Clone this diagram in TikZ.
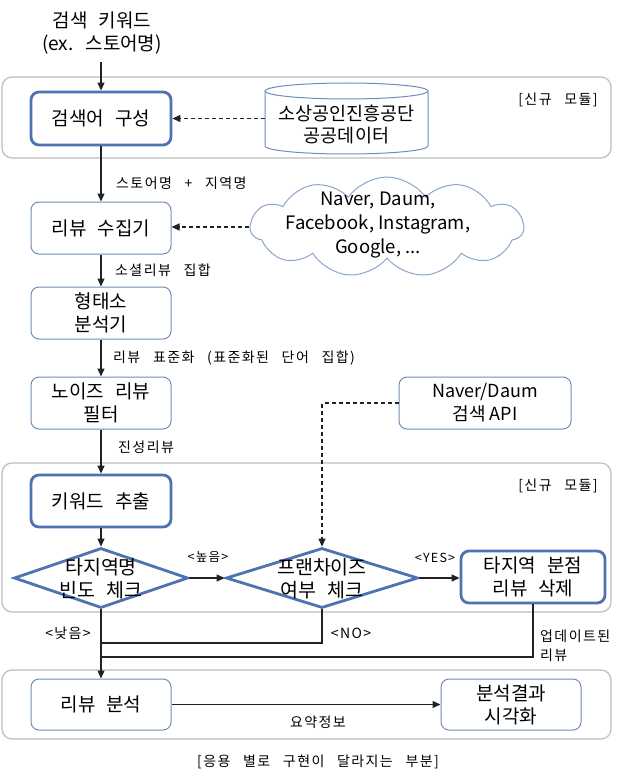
\documentclass[tikz,border=0pt]{standalone}
\usepackage{fontspec}
\setmainfont{Noto Sans CJK KR}[WordSpace=2.5]
\newfontfamily\latfont{Noto Sans CJK KR}
\newfontfamily\lblfont{Noto Sans CJK KR}[LetterSpace=10,WordSpace=2.8]
\usetikzlibrary{arrows.meta,shapes.geometric,shapes.symbols}
\definecolor{thk}{RGB}{79,114,179}
\definecolor{boxc}{RGB}{112,140,186}
\definecolor{modc}{RGB}{190,190,190}
\definecolor{conc}{RGB}{34,34,34}
\definecolor{cloudc}{RGB}{140,165,204}
\begin{document}
\begin{tikzpicture}[x=1pt,y=-1pt,
  every node/.style={inner sep=0pt},
  bx/.style={draw=boxc, line width=1pt, rounded corners=8pt, minimum width=140pt, minimum height=52pt, align=center, font=\fontsize{19}{23}\selectfont, fill=white},
  bxk/.style={bx, draw=thk, line width=2.8pt},
  mod/.style={draw=modc, line width=1.2pt, rounded corners=10pt},
  con/.style={draw=conc, line width=1.2pt},
  arr/.style={con, -{Triangle[length=8pt,width=7pt]}},
  dsh/.style={arr, dash pattern=on 4pt off 3pt},
  lab/.style={font=\lblfont\fontsize{14}{19}\selectfont},
  slab/.style={font=\lblfont\fontsize{12.5}{16}\selectfont},
  dia/.style={diamond, draw=thk, line width=2.8pt, fill=white, minimum width=174pt, minimum height=60pt},
  dtxt/.style={align=center, font=\fontsize{19.5}{23}\selectfont},
  cyl/.style={draw=boxc, line width=1pt}
]
\useasboundingbox (0,0) rectangle (634,778);
\fill[white] (0,0) rectangle (634,778);

% modules
\draw[mod] (2,77) rectangle (611,158);
\draw[mod] (2,463) rectangle (611,612);
\draw[mod] (2,670) rectangle (611,739);
\node[lab] (m1) at (558,100) {[신규 모듈]};
\node[lab] (m2) at (558,486) {[신규 모듈]};

% title
\node[align=center, font=\fontsize{19}{23}\selectfont] (title) at (102,33) {검색 키워드\\(ex. 스토어명)};

% boxes
\node[bxk, minimum height=53pt] (q) at (101,118.5) {검색어 구성};
\node[bx] (r) at (101,228) {리뷰 수집기};
\node[bx] (m) at (101,313) {형태소\\분석기};
\node[bx] (n) at (101,403) {노이즈 리뷰\\필터};
\node[bx, minimum width=172pt, font=\latfont\fontsize{18}{23}\selectfont] (api) at (485,403) {Naver/Daum\\검색 API};
\node[bxk] (k) at (101,501) {키워드 추출};
\node[bxk, minimum width=144pt] (t) at (533,577) {타지역 분점\\리뷰 삭제};
\node[bx, minimum height=51pt] (rv) at (101,704.5) {리뷰 분석};
\node[bx, minimum height=51pt] (vis) at (511,704.5) {분석결과\\시각화};

% cylinder
\draw[cyl] (265,91) -- (265,146) arc[start angle=180, end angle=0, x radius=81.5, y radius=8] -- (428,91);
\draw[cyl] (346.5,91) ellipse [x radius=81.5, y radius=8];
\node[align=center, font=\fontsize{18.5}{22}\selectfont] (db) at (346.5,124) {소상공인진흥공단\\공공데이터};
\coordinate (dbw) at (265,118.5);

% cloud
\node[cloud, cloud puffs=11, cloud puff arc=110, aspect=2.7, draw=cloudc, line width=1pt, minimum width=273pt, minimum height=100pt] (cl) at (387,227) {};
\node[align=center, font=\latfont\fontsize{18.5}{24}\selectfont] (clt) at (378,225) {Naver, Daum,\\Facebook, Instagram,\\Google, ...};

% diamonds
\node[dia] (d1) at (101,578) {};
\node[dtxt] (d1t) at (101,579) {타지역명\\빈도 체크};
\node[dia, minimum width=192pt] (d2) at (322,578) {};
\node[dtxt] (d2t) at (322,579) {프랜차이즈\\여부 체크};

% connectors
\draw[arr, shorten <=8pt] (title.south -| q.north) -- (q.north);
\draw[dsh] (dbw) -- (q.east);
\draw[arr] (q.south) -- (r.north);
\node[lab, anchor=west] (l1) at (116,183) {스토어명 + 지역명};
\draw[dsh] (cl.west) -- (cl.west -| r.east);
\draw[arr] (r.south) -- (m.north);
\node[lab, anchor=west] (l2) at (115,270) {소셜리뷰 집합};
\draw[arr] (m.south) -- (n.north);
\node[lab, anchor=west] (l3) at (113,358) {리뷰 표준화 (표준화된 단어 집합)};
\draw[arr] (n.south) -- (k.north);
\node[lab, anchor=west] (l4) at (118,447) {진성리뷰};
\draw[arr] (k.south) -- (d1.north);
\draw[dsh] (api.west) -| (d2.north);
\draw[arr] (d1.east) -- (d2.west);
\node[slab] (l5) at (208,557) {<높음>};
\draw[arr] (d2.east) -- (d2.east -| t.west);
\node[slab] (l6) at (435,558) {<YES>};
\coordinate (j1) at (101,643);
\coordinate (j2) at (101,657);
\draw[arr] (d1.south) -- (rv.north);
\draw[con] (d2.south) |- (j1);
\draw[con] (t.south) |- (j2);
\node[lab] (l7) at (68,633) {<낮음>};
\node[lab] (l8) at (351,633) {<NO>};
\node[lab, anchor=west, align=left] (l9) at (540,646) {업데이트된\\리뷰};
\draw[arr] (rv.east) -- (vis.west);
\node[lab] (l10) at (318,722) {요약정보};
\node[lab] (foot) at (318,762) {[응용 별로 구현이 달라지는 부분]};
\end{tikzpicture}
\end{document}
